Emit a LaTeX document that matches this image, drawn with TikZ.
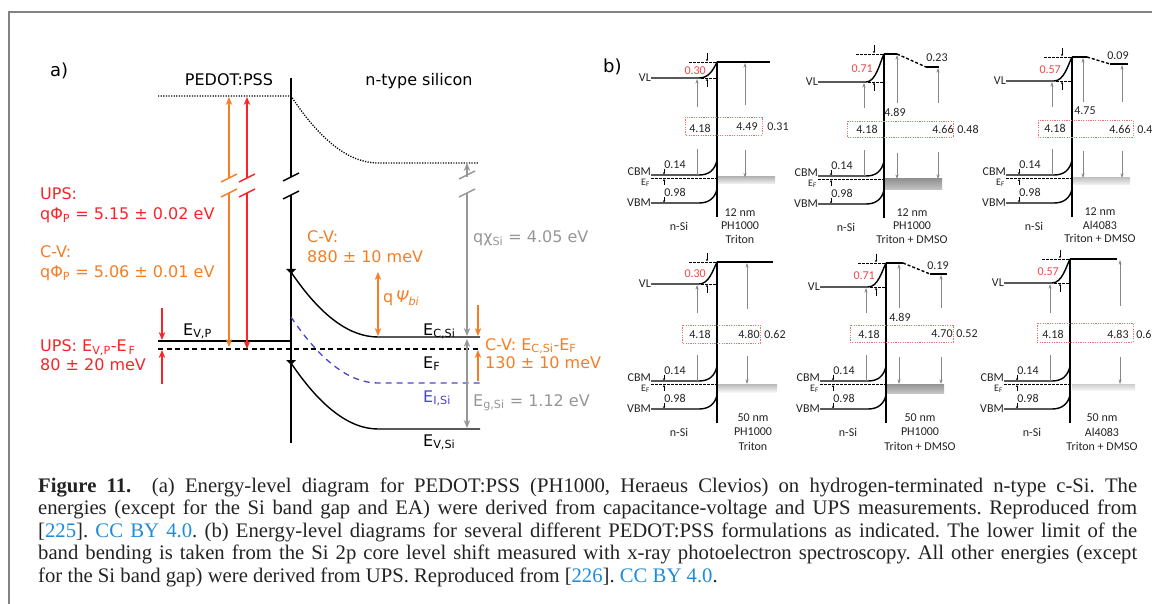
\documentclass[tikz,border=0pt]{standalone}
\usepackage{fontspec}
\setmainfont{Liberation Serif}
\newfontfamily\vfont{DejaVu Sans}
\newfontfamily\cfont{Carlito}
\usetikzlibrary{arrows.meta}
\definecolor{ured}{RGB}{250,35,40}
\definecolor{uorange}{RGB}{245,125,35}
\definecolor{ugray}{RGB}{150,150,150}
\definecolor{ublue}{RGB}{70,70,205}
\definecolor{ulink}{RGB}{30,140,215}
\definecolor{utext}{RGB}{35,35,35}
\definecolor{uframe}{RGB}{130,130,130}
\definecolor{bgray}{RGB}{135,135,135}
\definecolor{bred}{RGB}{240,70,70}
\definecolor{bbox}{RGB}{245,110,110}
\newcommand{\lsb}[1]{\textsubscript{#1}}
\tikzset{
  lvl/.style={line width=1.4pt,black},
  flv/.style={line width=1.4pt,black,dash pattern=on 5pt off 3.5pt},
  vdot/.style={line width=1.3pt,black,dash pattern=on 1.2pt off 1.4pt},
  idash/.style={line width=1.3pt,ublue,dash pattern=on 6pt off 5pt},
  ta/.style={font=\vfont\fontsize{16}{19}\selectfont,inner sep=0pt,anchor=base west},
  arrhead/.style={-{Stealth[length=8pt,width=6.5pt]}},
  oarr/.style={line width=1.4pt,uorange,arrhead},
  rarr/.style={line width=1.4pt,ured,arrhead},
  garr/.style={line width=1.4pt,ugray,arrhead},
  brk/.style={line width=1.4pt},
  bl/.style={line width=1.4pt,black},
  bif/.style={line width=1.9pt,black},
  bdash/.style={line width=0.7pt,black,dash pattern=on 2.5pt off 1.5pt},
  bt/.style={font=\cfont\fontsize{12}{13}\selectfont,text=utext,inner sep=0pt},
  bga/.style={line width=0.55pt,bgray,-{Stealth[length=4.5pt,width=3pt]}},
  bgl/.style={line width=0.55pt,bgray},
  sma/.style={line width=0.5pt,black,-{Stealth[length=2.2pt,width=2.4pt]}},
  rbox/.style={draw=bbox,line width=0.9pt,dash pattern=on 1.2pt off 1.2pt},
  captxt/.style={font=\fontsize{20.7}{23}\selectfont,inner sep=0pt,anchor=base west,text=utext},
}
\newcommand{\brkmark}[3]{\draw[brk,#3] (#1-8,#2+4) -- (#1+8,#2-4);}
% n-Si side of one panel (b) diagram: #1 name, #2 X, #3 Y, #4 VL, #5 top, #6 red value
\newcommand{\nsipanel}[6]{%
\begin{scope}[shift={(#2,#3)}]
  \draw[bl] (-66,#4) -- (-18,#4) .. controls (-8,#4) and (-4,#5+8) .. (0,#5);
  \draw[bdash] (-16,#4) -- (0,#4);
  \draw[bdash] (-28,#5) -- (-1,#5);
  \draw[sma] (-10,#5-9) -- (-10,#5-0.8);
  \draw[sma] (-10,#4+9) -- (-10,#4+0.8);
  \node[bt,text=bred,anchor=east] (#1r) at (-11,{(#4+#5)/2+1}) {#6};
  \draw[bl] (-66,0) -- (-18,0) .. controls (-8,0) and (-2,-5) .. (0,-15);
  \draw[bdash] (-66,3.5) -- (0,3.5);
  \draw[bl] (-66,28) -- (-18,28) .. controls (-8,28) and (-2,23) .. (0,14);
  \draw[bif] (0,#5) -- (0,42);
  \draw[bgl] (-20,0) -- (-20,-26);
  \draw[bga] (-20,-68) -- (-20,#4+1);
  \node[bt,anchor=east] (#1vl) at (-66,#4) {VL};
  \node[bt,anchor=east] (#1cb) at (-66,-3) {CBM};
  \node[bt,anchor=east,font=\cfont\fontsize{10}{11}\selectfont] (#1ef) at (-67,8) {E\lsb{F}};
  \node[bt,anchor=east] (#1vb) at (-66,28) {VBM};
  \node[bt] (#1a) at (-42,-10) {0.14};
  \node[bt] (#1b) at (-42,17) {0.98};
  \draw[sma] (-53,-6) -- (-53,-0.6);
  \draw[sma] (-53,10) -- (-53,4.1);
  \draw[sma] (-53,22) -- (-53,27.4);
  \node[bt] (#1l) at (-17,-47) {4.18};
  \node[bt] (#1n) at (-38,51) {n-Si};
\end{scope}}
\begin{document}
\frenchspacing
\begin{tikzpicture}[x=1pt,y=-1pt]
\useasboundingbox (0,0) rectangle (1152,604);
\draw[uframe,line width=1.6pt] (9,604) -- (9,12) -- (1152,12);
%% ---------------- panel (a)
\node[ta,font=\vfont\fontsize{18}{20}\selectfont] (la) at (50,77) {a)};
\node[ta,anchor=base] (pedot) at (229,86) {PEDOT:PSS};
\node[ta,anchor=base] (nsi) at (419,86) {n-type silicon};
% vacuum level
\draw[vdot] (158,96) -- (291,96) .. controls (320,140) and (349,163) .. (378,163) -- (478,163);
% interface
\draw[lvl] (291,78) -- (291,177);
\draw[lvl] (291,195) -- (291,443);
\brkmark{291}{177}{black}
\brkmark{291}{195}{black}
% PEDOT levels
\draw[lvl] (158,341) -- (291,341);
\draw[flv] (158,349) -- (480,349);
% Si bands
\draw[lvl] (291,272) .. controls (320,315) and (349,337) .. (378,337) -- (480,337);
\draw[lvl] (291,363) .. controls (320,406) and (349,429) .. (378,429) -- (480,429);
\draw[idash] (291,317) .. controls (320,360) and (349,383) .. (378,383) -- (480,383);
\fill (286,269) -- (296,269) -- (291,274) -- cycle;
\fill (286,360) -- (296,360) -- (291,365) -- cycle;
% work function arrows
\draw[oarr] (229,178) -- (229,97);
\draw[oarr] (229,193) -- (229,347);
\brkmark{229}{178}{uorange}
\brkmark{229}{193}{uorange}
\draw[rarr] (247,178) -- (247,97);
\draw[rarr] (247,193) -- (247,349);
\brkmark{247}{178}{ured}
\brkmark{247}{193}{ured}
\draw[rarr,line width=1.2pt] (162,308) -- (162,340);
\draw[rarr,line width=1.2pt] (162,384) -- (162,350);
% electron affinity, gap
\draw[garr] (467,177) -- (467,163);
\draw[garr] (467,193) -- (467,336);
\brkmark{467}{175}{ugray}
\brkmark{467}{193}{ugray}
\draw[garr,{Stealth[length=8pt,width=6.5pt]}-{Stealth[length=8pt,width=6.5pt]}] (467,339) -- (467,428);
% built-in potential
\draw[oarr,{Stealth[length=8pt,width=6.5pt]}-{Stealth[length=8pt,width=6.5pt]}] (378,272) -- (378,336);
\draw[oarr,line width=1.2pt] (478,305) -- (478,336);
\draw[oarr,line width=1.2pt] (478,381) -- (478,350);
% texts (a)
\node[ta,text=ured] (t1) at (40,200) {UPS:};
\node[ta,text=ured] (t2) at (40,220) {qΦ\lsb{P} = 5.15 ± 0.02 eV};
\node[ta,text=uorange] (t3) at (40,258) {C-V:};
\node[ta,text=uorange] (t4) at (40,278) {qΦ\lsb{P} = 5.06 ± 0.01 eV};
\node[ta,text=ured] (t5) at (40,352) {UPS: E\lsb{V,P}-E\lsb{\,F}};
\node[ta,text=ured] (t6) at (40,370) {80 ± 20 meV};
\node[ta] (t7) at (183,335) {E\lsb{V,P}};
\node[ta,text=uorange] (t8) at (307,243) {C-V:};
\node[ta,text=uorange] (t9) at (307,263) {880 ± 10 meV};
\node[ta,text=ugray] (t10) at (473,243) {qχ\lsb{Si} = 4.05 eV};
\node[ta,text=uorange] (t11) at (383,303) {q\,\textit{Ψ\lsb{bi}}};
\node[ta] (t12) at (423,335) {E\lsb{C,Si}};
\node[ta] (t13) at (423,368) {E\lsb{F}};
\node[ta,text=ublue] (t14) at (423,402) {E\lsb{I,Si}};
\node[ta,text=ugray] (t15) at (473,406) {E\lsb{g,Si} = 1.12 eV};
\node[ta] (t16) at (423,446) {E\lsb{V,Si}};
\node[ta,text=uorange] (t17) at (485,350) {C-V: E\lsb{C,Si}-E\lsb{F}};
\node[ta,text=uorange] (t18) at (485,368) {130 ± 10 meV};
%% ---------------- panel (b)
\node[ta,font=\vfont\fontsize{18}{20}\selectfont] (lb) at (603,73) {b)};
% top 1
\nsipanel{pa}{717}{175}{-97}{-113}{0.30}
\begin{scope}[shift={(717,175)}]
  \shade[top color=gray!55,bottom color=gray!8] (1,2) rectangle (58,9);
  \draw[bl] (0,-113) -- (53,-113);
  \draw[bga] (28,-70) -- (28,-112);
  \draw[bga] (28,-25) -- (28,2.5);
  \draw[rbox] (-32,-58) rectangle (45,-40);
  \node[bt] (pa1) at (30,-48) {4.49};
  \node[bt] (pa2) at (61,-48) {0.31};
  \node[bt] (pa3) at (23,38) {12 nm};
  \node[bt] (pa4) at (23,51) {PH1000};
  \node[bt] (pa5) at (23,64) {Triton};
\end{scope}
% top 2
\nsipanel{pb}{884}{176}{-94}{-122}{0.71}
\begin{scope}[shift={(884,176)}]
  \shade[top color=gray!85,bottom color=gray!45] (1,3) rectangle (58,14);
  \draw[bl] (0,-122) -- (13,-122);
  \draw[bl,dash pattern=on 3pt off 2pt] (13,-122) -- (42,-109);
  \draw[bl] (42,-109) -- (55,-109);
  \node[bt] (pb0) at (53,-118) {0.23};
  \draw[bga] (13,-73) -- (13,-121);
  \draw[bga] (13,-23) -- (13,3);
  \node[bt] (pb1) at (11,-64) {4.89};
  \draw[bga] (54,-73) -- (54,-108);
  \draw[bga] (54,-24) -- (54,3);
  \draw[rbox] (-37,-55) rectangle (69,-39);
  \node[bt] (pb2) at (59,-47) {4.66};
  \node[bt] (pb3) at (84,-47) {0.48};
  \node[bt] (pb4) at (28,37) {12 nm};
  \node[bt] (pb5) at (28,50) {PH1000};
  \node[bt] (pb6) at (28,63) {Triton + DMSO};
\end{scope}
% top 3
\nsipanel{pc}{1072}{175}{-94}{-118}{0.57}
\begin{scope}[shift={(1072,175)}]
  \shade[top color=gray!45,bottom color=gray!8] (1,3) rectangle (58,10);
  \draw[bl] (0,-118) -- (15,-118);
  \draw[bl,dash pattern=on 3pt off 2pt] (15,-118) -- (38,-111);
  \draw[bl] (38,-111) -- (56,-111);
  \node[bt] (pc0) at (46,-119) {0.09};
  \draw[bga] (11,-73) -- (11,-117);
  \draw[bga] (11,-24) -- (11,3);
  \node[bt] (pc1) at (13,-64) {4.75};
  \draw[bga] (50,-73) -- (50,-110);
  \draw[bga] (50,-24) -- (50,3);
  \draw[rbox] (-34,-55) rectangle (61,-38);
  \node[bt] (pc2) at (48,-46) {4.66};
  \node[bt] (pc3) at (76,-46) {0.48};
  \node[bt] (pc4) at (28,37) {12 nm};
  \node[bt] (pc5) at (28,50) {Al4083};
  \node[bt] (pc6) at (28,63) {Triton + DMSO};
\end{scope}
% bottom 1
\nsipanel{pd}{717}{381}{-97}{-119}{0.30}
\begin{scope}[shift={(717,381)}]
  \shade[top color=gray!55,bottom color=gray!8] (1,3) rectangle (60,11);
  \draw[bl] (0,-119) -- (56,-119);
  \draw[bga] (30,-72) -- (30,-118);
  \draw[bga] (30,-25) -- (30,3);
  \draw[rbox] (-35,-56) rectangle (43,-38);
  \node[bt] (pd1) at (32,-47) {4.80};
  \node[bt] (pd2) at (58,-47) {0.62};
  \node[bt] (pd3) at (36,37) {50 nm};
  \node[bt] (pd4) at (36,51) {PH1000};
  \node[bt] (pd5) at (36,65) {Triton};
\end{scope}
% bottom 2
\nsipanel{pe}{886}{381}{-94}{-118}{0.71}
\begin{scope}[shift={(886,381)}]
  \shade[top color=gray!85,bottom color=gray!45] (1,3) rectangle (58,12);
  \draw[bl] (0,-118) -- (17,-118);
  \draw[bl,dash pattern=on 3pt off 2pt] (17,-118) -- (44,-107);
  \draw[bl] (44,-107) -- (61,-107);
  \node[bt] (pe0) at (52,-115) {0.19};
  \draw[bga] (13,-73) -- (13,-117);
  \draw[bga] (13,-24) -- (13,3);
  \node[bt] (pe1) at (14,-64) {4.89};
  \draw[bga] (55,-73) -- (55,-106);
  \draw[bga] (55,-24) -- (55,3);
  \draw[rbox] (-36,-56) rectangle (67,-39);
  \node[bt] (pe2) at (56,-47) {4.70};
  \node[bt] (pe3) at (81,-47) {0.52};
  \node[bt] (pe4) at (34,37) {50 nm};
  \node[bt] (pe5) at (34,51) {PH1000};
  \node[bt] (pe6) at (34,65) {Triton + DMSO};
\end{scope}
% bottom 3
\nsipanel{pf}{1070}{381}{-98}{-122}{0.57}
\begin{scope}[shift={(1070,381)}]
  \shade[top color=gray!40,bottom color=gray!8] (2,3) rectangle (65,9);
  \draw[bl] (0,-122) -- (47,-122);
  \draw[bga] (50,-75) -- (50,-121);
  \draw[bga] (50,-24) -- (50,3);
  \draw[rbox] (-33,-58) rectangle (63,-39);
  \node[bt] (pf1) at (48,-47) {4.83};
  \node[bt] (pf2) at (77,-47) {0.65};
  \node[bt] (pf3) at (32,37) {50 nm};
  \node[bt] (pf4) at (32,51) {Al4083};
  \node[bt] (pf5) at (32,65) {Triton + DMSO};
\end{scope}
%% ---------------- caption
\node[captxt] (c1) at (38,492) {\makebox[1099pt][s]{\textbf{Figure 11.}\hspace{0.5em} (a) Energy-level diagram for PEDOT:PSS (PH1000, Heraeus Clevios) on hydrogen-terminated n-type c-Si. The}};
\node[captxt] (c2) at (38,514.5) {\makebox[1099pt][s]{energies (except for the Si band gap and EA) were derived from capacitance-voltage and UPS measurements. Reproduced from}};
\node[captxt] (c3) at (38,537) {\makebox[1099pt][s]{[\textcolor{ulink}{225}]. \textcolor{ulink}{CC BY 4.0}. (b) Energy-level diagrams for several different PEDOT:PSS formulations as indicated. The lower limit of the}};
\node[captxt] (c4) at (38,559.5) {\makebox[1099pt][s]{band bending is taken from the Si 2p core level shift measured with x-ray photoelectron spectroscopy. All other energies (except}};
\node[captxt] (c5) at (38,582) {for the Si band gap) were derived from UPS. Reproduced from [\textcolor{ulink}{226}]. \textcolor{ulink}{CC BY 4.0}.};
\end{tikzpicture}
\end{document}
